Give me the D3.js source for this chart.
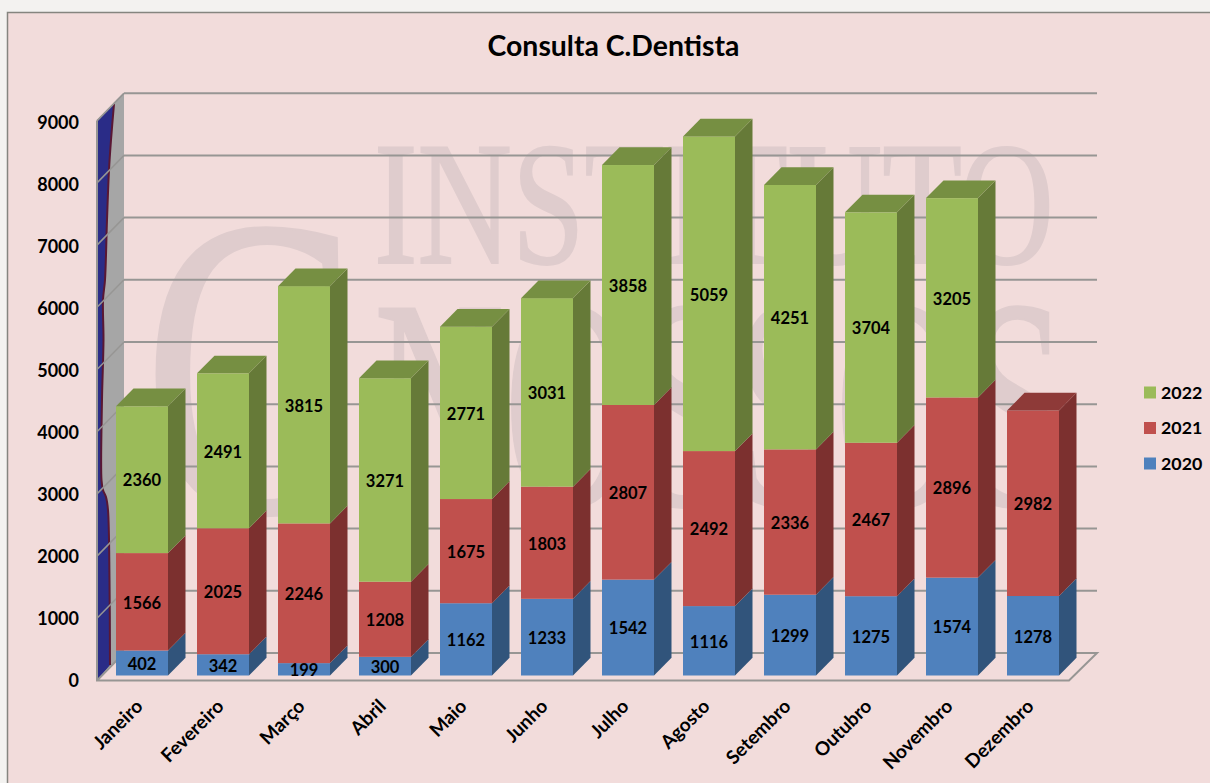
<!DOCTYPE html>
<html>
<head>
<meta charset="utf-8">
<script src="https://cdn.jsdelivr.net/npm/d3@7"></script>
<style>
  html, body { margin: 0; padding: 0; background: #f3f2f0; overflow: hidden; }
  text { font-family: Lato, "Open Sans", sans-serif; font-weight: 700; fill: #000; }
</style>
</head>
<body>
<svg id="chart" width="1210" height="783"></svg>
<script>
// values
const months = ["Janeiro", "Fevereiro", "Março", "Abril", "Maio", "Junho", "Julho", "Agosto", "Setembro", "Outubro", "Novembro", "Dezembro"];
const years = ["2020", "2021", "2022"];
const values2020 = [402, 342, 199, 300, 1162, 1233, 1542, 1116, 1299, 1275, 1574, 1278];
const values2021 = [1566, 2025, 2246, 1208, 1675, 1803, 2807, 2492, 2336, 2467, 2896, 2982];
const values2022 = [2360, 2491, 3815, 3271, 2771, 3031, 3858, 5059, 4251, 3704, 3205, 0];
const yTicks = [0, 1000, 2000, 3000, 4000, 5000, 6000, 7000, 8000, 9000];

const frontColors = ["#4f81bd", "#c0504d", "#9bbb59"];
const sideColors = ["#31547b", "#7c302f", "#667a38"];
const topColors = ["#3f6896", "#8e3a38", "#768f42"];

const svg = d3.select("#chart");

// panel background
svg.append("rect")
  .attr("x", 7.5).attr("y", 12.5)
  .attr("width", 1230).attr("height", 800)
  .attr("fill", "#f2dcdb")
  .attr("stroke", "#85857f")
  .attr("stroke-width", 1.5);

// watermark behind the plot
const watermark = svg.append("g").attr("class", "watermark");
function addMark(txt, x, y, size, len) {
  watermark.append("text")
    .attr("x", x).attr("y", y)
    .attr("textLength", len)
    .attr("lengthAdjust", "spacingAndGlyphs")
    .style("font-family", "'Liberation Serif', serif")
    .style("font-weight", 400)
    .style("font-size", size + "px")
    .style("fill", "#dfcccd")
    .style("stroke", "#dfcccd")
    .style("stroke-width", 2)
    .text(txt);
}
addMark("INSTITUTO", 374, 263, 176, 680);
addMark("C", 143, 512, 430, 216);
addMark("NOSSOS", 374, 505, 300, 692);

// scales, the y scale is the front plane of the bars
const x = d3.scaleBand().domain(months).range([101.5, 1073.5]).paddingInner(0.358).paddingOuter(0.179);
const y = d3.scaleLinear().domain([0, 9000]).range([675.5, 115.7]);

// depth of the box and of the bars
const floorDrop = 5;
const wallRise = 22.5;
const wallLeft = 97, wallRight = 124, wallEnd = 1097;
const barDx = 17.5, barDy = 17.7;

// side wall
const wallY0 = y(0) + floorDrop, wallY9 = y(9000) + floorDrop;
svg.append("polygon")
  .attr("points", [[wallLeft, wallY0], [wallRight, y(0) - wallRise], [wallRight, y(9000) - wallRise], [wallLeft, wallY9]].join(" "))
  .attr("fill", "#a6a6a6");

// blue blob on the side wall with its wavy dark edge
const blobEdge = [[114, 104], [111, 140], [109, 170], [107, 220], [105, 280], [103, 300], [103.5, 340], [102, 400], [101.5, 480], [103, 490], [106, 497], [108, 510], [109.5, 580], [110, 665]];
svg.append("path")
  .attr("d", d3.line().curve(d3.curveCatmullRom)(blobEdge) + `L${wallLeft},${wallY0}L${wallLeft},${wallY9}Z`)
  .attr("fill", "#2a2c87");
svg.append("path")
  .attr("d", d3.line().curve(d3.curveCatmullRom)(blobEdge))
  .attr("fill", "none")
  .attr("stroke", "#5a1733")
  .attr("stroke-width", 2);

// gridlines on back wall and side wall
const grid = svg.append("g");
grid.selectAll(".back").data(yTicks.filter(d => d > 0)).join("line")
  .attr("class", "back")
  .attr("x1", wallRight).attr("x2", wallEnd)
  .attr("y1", d => y(d) - wallRise).attr("y2", d => y(d) - wallRise)
  .attr("stroke", "#979694").attr("stroke-width", 2);
grid.selectAll(".side").data(yTicks.filter(d => d > 0)).join("line")
  .attr("class", "side")
  .attr("x1", wallLeft).attr("x2", wallRight)
  .attr("y1", d => y(d) + floorDrop).attr("y2", d => y(d) - wallRise)
  .attr("stroke", "#979694").attr("stroke-width", 1.5);

// floor outline and left edge
svg.append("polyline")
  .attr("points", [[wallLeft, wallY9], [wallLeft, wallY0], [1069, wallY0], [wallEnd, y(0) - wallRise], [wallRight, y(0) - wallRise], [wallLeft, wallY0]].join(" "))
  .attr("fill", "none")
  .attr("stroke", "#979694")
  .attr("stroke-width", 2);
svg.append("polyline")
  .attr("points", [[wallLeft, wallY9], [wallRight, y(9000) - wallRise]].join(" "))
  .attr("fill", "none").attr("stroke", "#979694").attr("stroke-width", 1.5);

// stack the three years
const rows = months.map((m, i) => ({ month: m, 2020: values2020[i], 2021: values2021[i], 2022: values2022[i] }));
const series = d3.stack().keys(years)(rows);

const bw = x.bandwidth();
const layers = svg.append("g").selectAll("g").data(series).join("g");

// right side of each segment
layers.selectAll(".side").data(d => d.filter(s => s[1] > s[0])).join("polygon")
  .attr("class", "side")
  .attr("fill", function () { return sideColors[years.indexOf(d3.select(this.parentNode).datum().key)]; })
  .attr("points", d => {
    const x1 = x(d.data.month) + bw;
    return [[x1, y(d[1])], [x1 + barDx, y(d[1]) - barDy], [x1 + barDx, y(d[0]) - barDy], [x1, y(d[0])]].join(" ");
  });

// front of each segment
layers.selectAll(".front").data(d => d.filter(s => s[1] > s[0])).join("rect")
  .attr("class", "front")
  .attr("fill", function () { return frontColors[years.indexOf(d3.select(this.parentNode).datum().key)]; })
  .attr("x", d => x(d.data.month))
  .attr("width", bw)
  .attr("y", d => y(d[1]))
  .attr("height", d => y(d[0]) - y(d[1]));

// top cap, takes the colour of the highest non empty segment of the month
const caps = months.map((m, i) => {
  const si = d3.max(series, (s, k) => (s[i][1] > s[i][0] ? k : -1));
  return { month: m, total: series[si][i][1], si };
});
svg.append("g").selectAll("polygon").data(caps).join("polygon")
  .attr("fill", d => topColors[d.si])
  .attr("points", d => {
    const x0 = x(d.month), t = y(d.total);
    return [[x0, t], [x0 + barDx, t - barDy], [x0 + bw + barDx, t - barDy], [x0 + bw, t]].join(" ");
  });

// value labels
layers.selectAll(".val").data(d => d.filter(s => s[1] > s[0])).join("text")
  .attr("class", "val")
  .attr("x", d => x(d.data.month) + bw / 2)
  .attr("y", d => (y(d[0]) + y(d[1])) / 2 + 1)
  .attr("dy", "0.35em")
  .attr("text-anchor", "middle")
  .style("font-size", "16.5px")
  .text(d => d[1] - d[0]);

// y axis, its labels sit a little tighter than the gridlines
const yLabel = d3.scaleLinear().domain([0, 9000]).range([681, 123]);
const yAxis = svg.append("g")
  .attr("transform", `translate(${wallLeft},0)`)
  .call(d3.axisLeft(yLabel).tickValues(yTicks).tickSize(0).tickPadding(18).tickFormat(d3.format("d")));
yAxis.select(".domain").remove();
yAxis.selectAll("text").style("font-size", "18px").style("font-family", "Lato, sans-serif").style("font-weight", 700);

// x axis with slanted month names
const xAxis = svg.append("g")
  .attr("transform", `translate(0,${wallY0})`)
  .call(d3.axisBottom(x).tickSize(0).tickPadding(0));
xAxis.select(".domain").remove();
xAxis.selectAll("text")
  .style("font-size", "19px").style("font-family", "Lato, sans-serif").style("font-weight", 700)
  .attr("text-anchor", "end")
  .attr("dy", 0)
  .attr("y", 0)
  .attr("transform", "translate(2,27) rotate(-45)");

// title
svg.append("text")
  .attr("x", 613.5).attr("y", 55.5)
  .attr("text-anchor", "middle")
  .style("font-size", "28.4px")
  .text("Consulta C.Dentista");

// legend, newest year on top
const legendY = d3.scalePoint().domain(years.slice().reverse()).range([392.5, 463.5]);
const legend = svg.append("g").selectAll("g").data(years).join("g")
  .attr("transform", d => `translate(1144,${legendY(d)})`);
legend.append("rect")
  .attr("y", -6).attr("width", 12).attr("height", 12)
  .attr("fill", (d, i) => frontColors[i]);
legend.append("text")
  .attr("x", 17).attr("dy", "0.35em")
  .style("font-size", "17.8px")
  .text(d => d);
</script>
</body>
</html>
